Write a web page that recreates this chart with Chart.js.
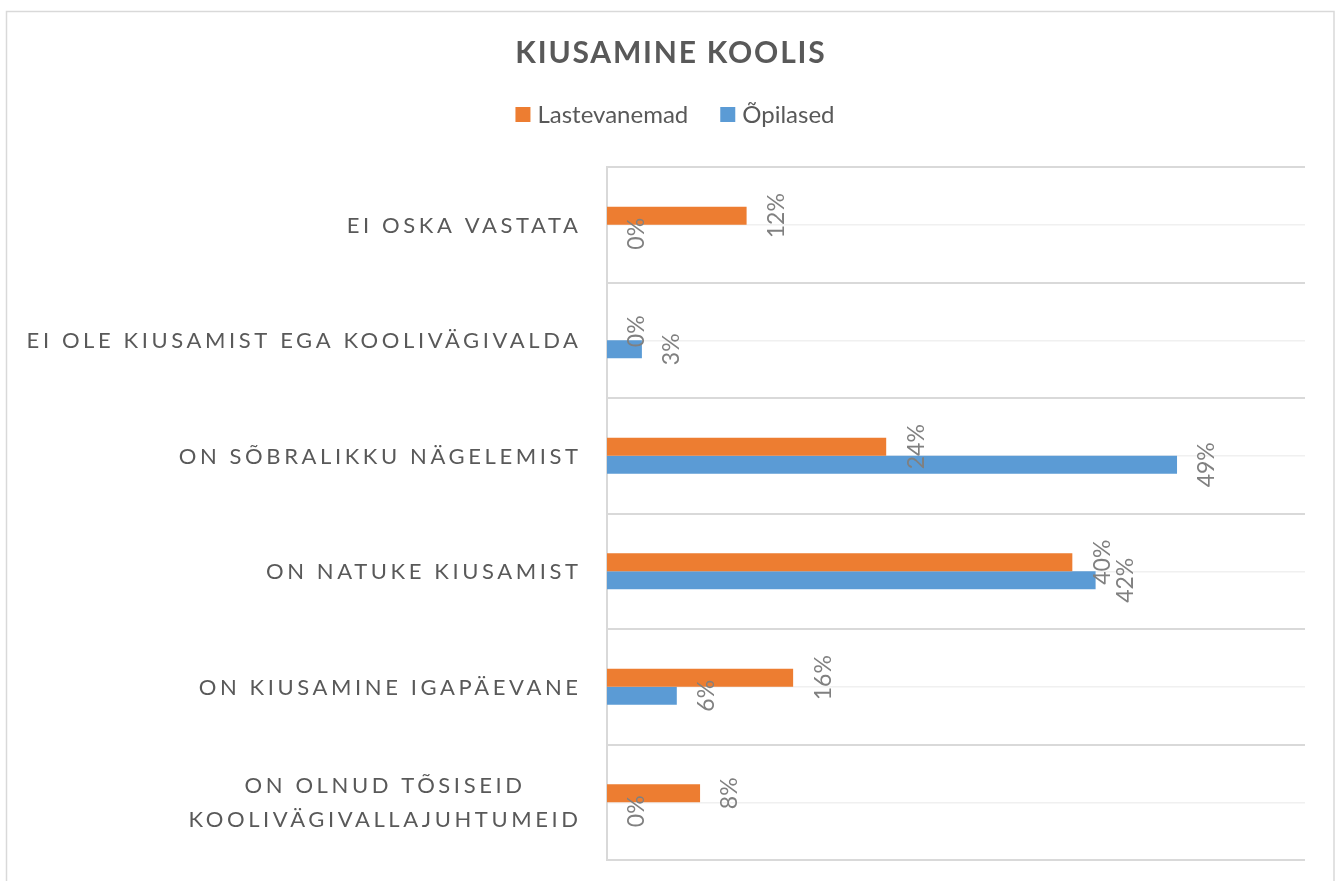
<!DOCTYPE html>
<html><head><meta charset="utf-8">
<script src="https://cdn.jsdelivr.net/npm/chart.js@4"></script>
<style>html,body{margin:0;padding:0;background:#fff}#wrap{width:1336px;height:881px;position:relative}</style>
</head><body><div id="wrap"><canvas id="c" width="1336" height="881"></canvas></div>
<script>
const chartTitle = "KIUSAMINE KOOLIS";
const categories = [
  ["EI OSKA VASTATA"],
  ["EI OLE KIUSAMIST EGA KOOLIVÄGIVALDA"],
  ["ON SÕBRALIKKU NÄGELEMIST"],
  ["ON NATUKE KIUSAMIST"],
  ["ON KIUSAMINE IGAPÄEVANE"],
  ["ON OLNUD TÕSISEID", "KOOLIVÄGIVALLAJUHTUMEID"]
];
const seriesNames = ["Lastevanemad", "Õpilased"];
const lastevanemad = [0.12, 0.00, 0.24, 0.40, 0.16, 0.08];
const opilased = [0.00, 0.03, 0.49, 0.42, 0.06, 0.00];
const xMin = 0, xMax = 0.6;

const COLORS = ['#ED7D31', '#5B9BD5'];
const TEXT = '#595959';
const FONT = 'Lato, "Open Sans", sans-serif';

function measureSpaced(ctx, text, ls) {
  ctx.letterSpacing = ls + 'px';
  const w = ctx.measureText(text).width - ls;
  ctx.letterSpacing = '0px';
  return w;
}
function spacedText(ctx, text, x, y, ls, align) {
  const w = measureSpaced(ctx, text, ls);
  const sx = align === 'right' ? x - w : (align === 'center' ? x - w / 2 : x);
  ctx.letterSpacing = ls + 'px';
  ctx.textAlign = 'left';
  ctx.fillText(text, sx, y);
  ctx.letterSpacing = '0px';
  return w;
}

const deco = {
  id: 'deco',
  beforeDraw(chart) {
    const ctx = chart.ctx;
    ctx.save();
    ctx.fillStyle = '#fff';
    ctx.fillRect(0, 0, chart.width, chart.height);
    ctx.strokeStyle = '#d9d9d9';
    ctx.lineWidth = 1.5;
    ctx.strokeRect(6.5, 11.5, 1327.5, 900);
    ctx.restore();
  },
  afterDatasetsDraw(chart) {
    const ctx = chart.ctx;
    ctx.save();
    ctx.fillStyle = '#808080';
    ctx.font = '23px ' + FONT;
    ctx.textAlign = 'center';
    ctx.textBaseline = 'middle';
    chart.data.datasets.forEach((ds, di) => {
      const meta = chart.getDatasetMeta(di);
      meta.data.forEach((el, i) => {
        const v = ds.data[i];
        const txt = Math.round(v * 100) + '%';
        ctx.save();
        ctx.translate(el.x + 29, el.y);
        ctx.rotate(-Math.PI / 2);
        ctx.fillText(txt, 0, 1);
        ctx.restore();
      });
    });
    ctx.restore();
  },
  afterDraw(chart) {
    const ctx = chart.ctx;
    const ys = chart.scales.y;
    const area = chart.chartArea;
    ctx.save();
    ctx.fillStyle = TEXT;
    ctx.textBaseline = 'middle';
    // title
    ctx.font = 'bold 30px ' + FONT;
    spacedText(ctx, chartTitle, 670, 53, 1.8, 'center');
    // legend
    ctx.font = '24px ' + FONT;
    const box = 15, gap = 7, itemGap = 32;
    const widths = seriesNames.map(n => ctx.measureText(n).width);
    const total = widths.reduce((a, b) => a + b, 0) + seriesNames.length * (box + gap) + itemGap * (seriesNames.length - 1);
    let lx = 675 - total / 2;
    seriesNames.forEach((n, i) => {
      ctx.fillStyle = COLORS[i];
      ctx.fillRect(lx, 107, box, box);
      ctx.fillStyle = TEXT;
      ctx.textAlign = 'left';
      ctx.fillText(n, lx + box + gap, 115);
      lx += box + gap + widths[i] + itemGap;
    });
    // category labels (multi-line blocks: right-aligned block, lines centred)
    ctx.font = '22px ' + FONT;
    const ls = 3.6, lh = 34;
    categories.forEach((lines, i) => {
      const cy = ys.getPixelForValue(i);
      const ws = lines.map(ln => measureSpaced(ctx, ln, ls));
      const maxW = Math.max(...ws);
      const right = area.left - 29;
      const cx = right - maxW / 2;
      lines.forEach((ln, k) => {
        const y = cy + (k - (lines.length - 1) / 2) * lh + 1;
        spacedText(ctx, ln, cx, y, ls, 'center');
      });
    });
    ctx.restore();
  }
};

new Chart(document.getElementById('c'), {
  type: 'bar',
  data: {
    labels: categories,
    datasets: [
      { label: seriesNames[0], data: lastevanemad, backgroundColor: COLORS[0], yAxisID: 'y' },
      { label: seriesNames[1], data: opilased, backgroundColor: COLORS[1], yAxisID: 'y' }
    ]
  },
  options: {
    indexAxis: 'y',
    responsive: false,
    animation: false,
    devicePixelRatio: 1,
    layout: { padding: { top: 167, bottom: 21, left: 0, right: 0 } },
    categoryPercentage: 0.312,
    barPercentage: 1,
    plugins: { legend: { display: false }, title: { display: false }, tooltip: { enabled: false } },
    scales: {
      x: { type: 'linear', min: xMin, max: xMax, display: false },
      y: {
        type: 'category', position: 'left', offset: true,
        ticks: { display: false },
        grid: { offset: true, color: '#d9d9d9', lineWidth: 2, drawTicks: false },
        border: { display: true, color: '#d9d9d9', width: 2 },
        afterFit(s) { s.width = 607; }
      },
      y2: {
        type: 'category', position: 'right', offset: true, labels: categories,
        ticks: { display: false },
        grid: { offset: false, color: '#f0f0f0', lineWidth: 1.5, drawTicks: false },
        border: { display: false },
        afterFit(s) { s.width = 31; }
      }
    }
  },
  plugins: [deco]
});
</script>
</body></html>
